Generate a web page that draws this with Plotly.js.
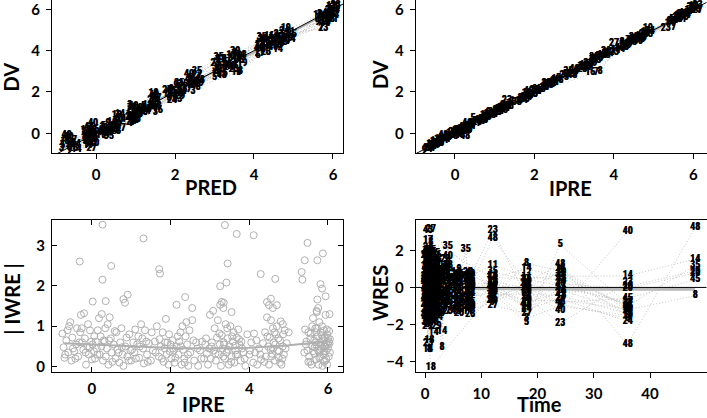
<!DOCTYPE html>
<html><head><meta charset="utf-8">
<script src="https://cdn.plot.ly/plotly-3.0.1.min.js"></script>
<style>html,body{margin:0;padding:0;background:#fff}#chart{width:707px;height:418px}</style>
</head><body><div id="chart"></div>
<script>
// ---------- Panels 1 & 2: observations (ID, PRED, DV, IPRE) ----------
const obsId = [48,15,7,3,19,27,14,9, 40,27,48,18,3,5,7,9,11,14,16,23,35, 3,7,9,19,24,35, 23,5,11,14,16,27,40,48, 3,7,8,9,14,18,19,24,29,35, 5,40,48, 19,23,3,7,14,27,35, 8,9,16,24,40, 25,23,5,11,29,48, 35,7,14,18,19,3,27,9, 35,5,8,11,16,23,40,48, 37,16,7,8,3,9,14,19,24,29,39, 35,5,11,18,23,40,48, 7,27,8,14,3,9,16,24, 19,29,35,40,11, 23,7,5,14,18,3,48, 12,9,11,16,24,27,35,40,
 5,11,16,23,40,24, 8,19,24,29,17,20,45,43,28,39, 5,11,14,27,40, 3,7,9,19,24,35, 5,11,16,23,27,40,48,20,45,17, 9,11,24, 5,9,11,16,40,48, 3,14,27, 9,16,24,35, 5,8,11,23,40,48, 3,9,14,19,27, 5,11,23,35,40,48,18, 3,9,14,27,29, 5,11,18,23,35,40,48, 3,14,24, 9,11,16,24,27,40, 3,5,7,14,18,23,48];
const obsPred = [-0.75,-0.72,-0.55,-0.88,-0.8,-0.62,-0.5,-0.68, -0.08,-0.12,-0.2,-0.25,-0.28,-0.15,-0.05,-0.22,-0.1,-0.18,-0.05,-0.25,-0.12, 0.15,0.25,0.3,0.12,0.2,0.32, 0.5,0.55,0.45,0.6,0.4,0.62,0.55,0.42, 0.85,0.9,0.95,1.0,0.88,1.05,0.92,0.98,0.86,1.02, 1.2,1.28,1.18, 1.45,1.42,1.5,1.55,1.4,1.52,1.48, 1.85,1.9,1.82,1.92,1.88, 2.1,2.05,2.0,2.15,2.12,2.18, 2.55,2.35,2.5,2.4,2.6,2.45,2.55,2.32, 3.1,3.0,3.05,3.15,3.2,3.02,3.12,3.18, 3.3,3.55,3.6,3.65,3.4,3.5,3.45,3.7,3.35,3.58,3.52, 4.19,4.1,4.25,4.15,4.3,4.12,4.28, 4.45,4.4,4.5,4.6,4.55,4.7,4.38,4.65, 4.8,4.85,4.95,4.78,4.9, 5.75,5.7,5.65,5.8,5.62,5.9,5.85, 5.95,5.9,6.0,5.98,6.02,5.92,6.05,5.88,
 -0.85,-0.78,-0.65,-0.58,-0.7,-0.52, -0.3,-0.2,-0.1,-0.15,-0.27,-0.05,-0.18,-0.08,-0.22,-0.12, 0.18,0.28,0.22,0.3,0.15, 0.38,0.48,0.58,0.52,0.62,0.45, 0.84,0.9,0.96,1.04,0.88,0.94,1.0,1.06,0.9,0.98, 1.22,1.3,1.25, 1.38,1.44,1.5,1.56,1.46,1.53, 1.84,1.93,1.8, 2.02,2.08,2.16,2.2, 2.38,2.58,2.45,2.52,2.35,2.62, 3.0,3.08,3.2,3.05,3.15, 3.28,3.42,3.48,3.62,3.4,3.55,3.68, 4.08,4.2,4.3,4.14,4.22, 4.42,4.5,4.58,4.62,4.72,4.48,4.68, 4.82,4.92,4.76, 5.6,5.68,5.78,5.72,5.85,5.82, 5.96,5.9,6.0,6.04,5.94,6.06,5.92];
const obsDv = [-0.1,-0.3,-0.35,-0.75,-0.55,-0.65,-0.8,-0.85, 0.45,-0.72,-0.15,-0.1,-0.4,0.1,-0.25,-0.55,0.0,-0.3,0.2,0.05,-0.45, 0.3,0.0,0.45,-0.1,0.15,-0.15, 0.08,0.72,0.35,0.9,0.5,0.25,0.6,0.2, 1.35,0.45,1.1,0.7,0.9,1.2,0.55,1.0,0.75,0.85, 1.3,1.15,1.0, 1.93,1.6,1.0,1.4,1.2,1.7,1.5, 1.7,2.1,1.9,1.6,2.0, 2.4,1.65,2.0,2.2,1.8,2.1, 3.0,2.1,2.6,2.3,2.4,2.0,2.8,2.5, 3.68,2.7,3.0,3.3,2.9,3.4,3.1,2.8, 3.55,2.92,2.95,3.0,3.6,3.85,3.3,3.4,3.2,3.7,3.95, 4.65,3.75,4.0,4.3,3.9,4.1,4.45, 4.5,4.35,4.4,4.05,4.6,4.3,4.7,4.5, 5.05,4.6,4.8,4.45,4.9, 5.05,5.1,5.5,5.3,5.7,5.6,5.8, 6.15,5.85,5.5,6.0,5.7,5.95,6.1,5.6,
 -0.6,-0.4,-0.5,-0.75,-0.2,-0.55, -0.2,-0.6,-0.35,-0.05,0.15,-0.5,0.3,-0.15,-0.25,0.15, 0.35,0.1,-0.05,0.25,0.05, 0.15,0.55,0.4,0.85,0.65,0.15, 0.95,1.25,0.6,1.0,0.5,1.3,0.65,0.9,0.8,1.15, 1.2,1.35,1.05, 1.3,1.75,1.55,1.1,1.85,1.3, 1.85,1.75,2.05, 2.3,1.9,2.0,2.35, 2.65,2.2,2.45,2.35,2.85,2.55, 3.2,3.5,3.25,2.85,3.55, 3.45,3.75,3.1,3.5,3.25,3.6,3.75, 4.2,4.45,4.2,3.85,4.55, 4.55,4.7,4.25,4.8,4.4,4.15,4.65, 4.75,4.55,4.95, 5.35,5.6,5.45,5.75,5.4,5.65, 5.8,6.05,5.9,5.95,5.75,6.2,5.5];
const obsIpre = [-0.3,-0.4,-0.45,-0.7,-0.6,-0.55,-0.7,-0.78, 0.3,-0.6,0.25,0.12,-0.35,0.05,-0.2,-0.45,-0.1,-0.25,0.15,-0.05,-0.5, 0.25,0.1,0.4,0.0,0.2,-0.05, 0.2,0.45,0.4,0.85,0.55,0.35,0.6,0.3, 1.2,0.6,1.0,0.75,0.95,1.15,0.65,0.9,0.8,0.9, 1.2,1.15,1.05, 1.8,1.3,1.1,1.35,1.25,1.7,1.55, 1.75,2.0,1.95,1.7,1.85, 2.3,1.75,2.05,2.25,1.85,2.15, 2.85,2.2,2.55,2.35,2.45,2.1,2.75,2.45, 3.5,2.8,3.05,3.25,2.95,3.35,3.0,2.95, 3.5,3.4,3.55,3.65,3.55,3.75,3.35,3.45,3.3,3.65,3.8, 4.5,3.85,4.05,4.25,4.0,4.15,4.4, 4.35,4.0,4.2,4.15,4.55,4.4,4.65,4.6, 4.85,4.7,4.85,4.6,4.8, 5.3,5.5,5.45,5.4,5.65,5.55,5.75, 6.0,5.9,5.7,6.05,5.8,6.1,5.95,5.75,
 -0.65,-0.5,-0.45,-0.68,-0.3,-0.5, -0.15,-0.5,-0.3,0.0,0.05,-0.4,0.2,-0.2,-0.3,0.1, 0.3,0.15,0.05,0.3,0.0, 0.25,0.5,0.45,0.75,0.7,0.3, 1.0,1.2,0.7,0.95,0.55,1.25,0.7,0.85,0.75,1.1, 1.25,1.3,1.1, 1.35,1.7,1.5,1.2,1.85,1.35, 1.85,1.8,2.0, 2.25,1.95,2.05,2.35, 2.6,2.3,2.5,2.4,2.8,2.6, 3.2,3.45,3.2,2.9,3.5, 3.45,3.7,3.2,3.55,3.3,3.6,3.7, 4.2,4.45,4.25,3.9,4.5, 4.5,4.7,4.3,4.75,4.45,4.25,4.65, 4.75,4.65,4.9, 5.4,5.6,5.5,5.7,5.45,5.65, 5.85,6.0,5.95,5.9,5.8,6.1,5.6];
const smoothPredX = [-0.8, 0.5, 2.0, 3.5, 5.0, 6.0];
const smoothPredY = [-0.72, 0.55, 2.05, 3.42, 4.95, 5.95];
const smoothIpreX = [-0.8, 1.0, 3.0, 5.0, 6.1];
const smoothIpreY = [-0.8, 0.98, 3.0, 4.98, 6.05];

// ---------- Panel 3: |IWRES| vs IPRE ----------
const iwX = [-0.75,-0.72,-0.7,-0.65,-0.6,-0.58,-0.55,-0.52,-0.5,-0.45,-0.4,-0.38,-0.35,-0.3,-0.28,-0.25,-0.22,-0.2,-0.18,-0.15,-0.12,-0.1,-0.08,-0.05,-0.02,0.0,
 0.02,0.05,0.08,0.1,0.12,0.15,0.18,0.2,0.22,0.25,0.28,0.3,0.32,0.35,0.38,0.4,0.42,0.45,0.48,0.5,0.55,0.6,0.62,0.65,0.7,0.72,0.75,0.78,0.8,0.85,0.9,0.95,0.98,
 1.0,1.05,1.08,1.1,1.15,1.2,1.25,1.28,1.3,1.32,1.35,1.4,1.45,1.5,1.55,1.6,1.65,1.7,1.75,1.8,1.82,1.85,1.88,1.9,1.92,1.95,1.98,2.0,
 2.02,2.05,2.08,2.1,2.15,2.2,2.22,2.25,2.28,2.3,2.32,2.35,2.38,2.4,2.42,2.45,2.5,2.55,2.6,2.65,2.7,2.75,2.8,2.85,2.9,2.95,2.98,3.0,
 3.02,3.05,3.08,3.1,3.12,3.15,3.18,3.2,3.22,3.25,3.28,3.3,3.32,3.35,3.38,3.4,3.42,3.45,3.48,3.5,3.52,3.55,3.58,3.6,3.62,3.65,3.68,3.7,3.72,3.75,3.78,3.8,3.85,3.9,3.95,4.0,
 4.05,4.1,4.12,4.15,4.2,4.25,4.3,4.35,4.4,4.42,4.45,4.48,4.5,4.52,4.55,4.58,4.6,4.62,4.65,4.68,4.7,4.72,4.75,4.78,4.8,4.82,4.85,4.88,4.9,4.95,5.0,4.78,4.6,4.85,
 5.4,5.42,5.45,5.48,5.5,5.52,5.55,5.58,5.6,5.62,5.65,5.65,5.68,5.7,5.7,5.72,5.74,5.75,5.76,5.78,5.8,5.8,5.82,5.84,5.85,5.86,5.88,5.88,5.9,5.9,5.92,5.92,5.94,5.95,5.96,5.97,5.98,6.0,6.0,6.02,6.03,6.04,6.05,6.05,5.84,5.78,5.66,5.6,5.55,5.96,
 -0.68,-0.62,-0.48,-0.42,-0.32,-0.26,-0.16,-0.06, 0.06,0.14,0.24,0.34,0.44,0.52,0.58,0.68,0.76,0.88,0.94, 1.02,1.12,1.18,1.22,1.38,1.42,1.52,1.62,1.72,1.78,1.86,1.96, 2.06,2.12,2.18,2.26,2.36,2.44,2.48,2.58,2.68,2.78,2.88,2.92, 3.04,3.14,3.24,3.34,3.36,3.44,3.46,3.54,3.56,3.64,3.66,3.74,3.82,3.88, 4.02,4.18,4.28,4.38,4.46,4.54,4.56,4.64,4.66,4.74,4.76,4.84,4.86,4.92, 5.44,5.5,5.56,5.62,5.68,5.72,5.78,5.82,5.86,5.9,5.94,5.98,6.02,5.7,5.8,5.9,6.0,
 0.27,1.31,3.38,3.68,4.11,5.48,5.41,5.73,5.87,5.33,5.35,-0.31,0.27,0.49,1.71,1.73,3.45,3.42,3.26,4.29,4.66,5.81,5.85,5.94,0.02,0.35,0.8,0.84,0.91,2.15,2.37,2.55,3.3,3.35,3.26,3.34,3.55,4.45,4.5,4.55,4.6,4.7,5.73,5.75,5.71,6.04];
const iwAbs = [0.82,0.48,0.22,0.65,0.35,1.0,1.1,0.15,0.72,0.38,0.55,0.95,0.25,0.85,1.28,0.6,0.42,1.32,0.7,0.05,0.5,1.05,0.3,0.9,0.62,0.18,
 0.55,0.38,0.2,0.62,0.45,0.9,1.2,0.3,0.75,1.3,0.15,0.65,0.62,0.25,0.45,1.05,0.05,1.22,0.7,0.35,0.55,0.2,0.85,0.42,0.1,0.6,0.95,0.3,0.02,0.5,0.25,0.8,0.4,
 0.15,0.6,0.35,0.92,0.55,0.22,1.05,0.7,0.45,0.08,0.9,0.3,0.58,0.15,0.4,0.62,1.0,0.25,0.5,0.85,0.12,0.45,1.18,0.3,0.6,0.05,0.38,0.55,
 0.2,0.65,0.4,0.1,0.5,0.3,0.62,0.85,0.05,1.0,0.42,0.2,0.75,1.1,0.55,0.02,0.35,1.15,0.15,0.6,0.02,0.4,0.62,0.2,0.7,0.05,0.45,1.28,
 0.2,0.6,1.38,0.4,0.95,0.15,0.72,1.15,0.3,0.55,0.02,0.78,0.45,0.6,0.2,1.05,0.35,0.7,0.05,0.5,1.0,0.25,0.62,0.85,0.1,0.4,0.72,0.3,0.92,0.55,0.15,0.62,0.35,0.02,0.8,0.3,
 0.6,0.1,0.82,0.35,0.05,0.45,0.18,0.58,0.85,0.25,1.22,0.5,0.05,0.72,1.15,0.32,0.95,0.6,0.15,0.8,1.0,0.4,0.22,0.65,1.12,0.05,0.5,0.3,0.9,0.58,0.85,0.1,0.45,1.05,
 0.35,0.92,0.62,0.4,0.85,0.25,0.7,0.05,0.5,1.2,0.32,0.65,0.95,0.18,0.55,1.35,0.75,0.4,0.05,1.1,0.6,0.25,0.85,0.45,1.0,0.02,0.65,0.3,0.9,0.5,0.15,0.72,1.28,0.38,0.6,0.92,0.05,0.45,0.7,0.25,0.88,0.58,0.35,0.68,0.78,0.35,0.48,1.0,0.12,0.18,
 0.3,0.9,0.45,0.2,0.6,0.95,0.35,0.48, 0.75,0.3,0.5,0.95,0.65,0.12,0.88,0.35,0.48,0.72,0.15, 0.42,0.2,0.75,0.5,0.62,0.12,0.85,0.35,0.68,0.2,0.6,0.8, 0.45,0.22,0.75,0.5,0.1,0.3,0.9,0.65,0.45,0.2,0.55,0.32, 0.5,0.32,0.82,0.25,0.55,0.95,0.42,0.12,0.75,0.52,0.3,0.68,0.45,0.2, 0.4,0.65,0.3,0.12,0.75,0.42,0.25,0.85,0.55,0.7,0.38,0.2,0.8,0.45, 0.55,0.12,0.82,0.38,0.6,0.95,0.22,0.55,0.7,0.12,0.5,0.8,0.62,0.85,0.42,0.38,0.55,
 3.51,3.17,3.5,3.28,3.25,3.06,2.63,2.63,2.8,2.34,2.15,2.6,2.15,2.49,2.41,2.3,2.55,2.08,1.99,2.29,2.17,2.04,1.93,1.74,1.61,1.62,1.67,1.58,1.78,1.53,1.72,1.45,1.6,1.58,1.53,1.45,1.35,1.6,1.52,1.68,1.45,1.52,1.66,1.45,1.38,1.3];
const iwSmoothX = [-0.7, 0.0, 1.0, 2.0, 3.0, 4.0, 5.0, 6.0];
const iwSmoothY = [0.58, 0.55, 0.5, 0.46, 0.45, 0.47, 0.53, 0.62];

// ---------- Panel 4: WRES vs Time, one list per sampling time ----------
const S16 = [3,5,8,9,11,14,16,20,23,24,27,29,35,40,45,48];
const blockTime = [0.1, 0.25, 0.35, 0.5, 0.6, 0.75, 0.9, 1, 1.25, 1.5, 1.75, 2, 2.25, 2.6, 3, 3.6, 4, 5.5, 6, 7.2, 7.6, 8,
                   11.8, 12, 17.8, 18, 24, 24.2, 36, 36, 48];
const blockIds = [
 S16,
 [3,5,8,9,11,14,16,20,23,27,29,35,40,45,48],
 S16,
 [3,5,8,9,11,14,16,17,20,23,24,27,29,35,40,43,45,48],
 S16,
 [3,5,8,9,11,14,16,18,20,23,27,29,40,45,48],
 S16,
 [3,5,8,9,11,14,16,18,20,23,24,27,29,35,40,45,48],
 S16, S16, S16, S16, S16,
 [20,11,24,48],
 [14,8,9,5,27],
 S16, S16, S16,
 [3,5,8,9,11,14,16,20,23,24,27,29,40,45,48],
 [35],
 S16,
 [3,5,8,9,11,14,16,20,23,24,27,28,29,35,40,45,48],
 [17,18,43,28,19,7],
 [23,48,11,35,16,14,24,40,29,3,20,5,8,45,9,27],
 [17,18,43,28,19,7],
 [8,14,11,35,48,45,9,40,23,16,29,20,24,27,3,5],
 [5,48,16,8,35,14,11,20,27,29,24,45,9,3,40,23],
 [17,18,43,28,19,7],
 [40,14,23,29,20,45,27,5,35,16,8,11,3,9,24,48],
 [17,18,43,28,19,7],
 [48,14,35,29,20,45,8]];
const blockWres = [
 [0.9,-0.7,1.4,-1.8,0.2,1.1,-0.4,0.6,-1.2,0.4,1.7,-0.9,0.0,-1.5,0.3,-0.6],
 [-0.5,1.2,-1.0,0.3,1.6,-0.2,0.8,-1.5,0.1,-0.8,0.5,-1.9,1.0,-0.4,1.8],
 [1.5,-0.3,0.7,-1.0,-1.9,0.4,2.0,-0.1,0.8,-0.7,1.2,-2.1,0.5,1.9,-1.6,0.1],
 [0.2,0.6,-1.3,-0.6,1.1,-3.35,1.4,2.55,-0.9,-3.0,2.14,0.0,-1.2,1.7,-0.3,3.08,0.9,-1.8],
 [-1.1,1.8,0.0,0.6,-0.4,-1.7,0.3,1.5,-0.8,1.0,-1.4,0.9,-0.2,0.4,1.3,-0.5],
 [-1.6,-0.1,-3.35,1.5,-0.7,0.9,-1.1,-2.83,0.3,1.9,-2.0,1.2,-0.5,-1.3,0.7],
 [0.4,-0.9,-1.9,1.1,0.8,0.5,-1.5,-0.3,1.6,0.0,0.6,-1.0,1.3,-1.2,-0.2,1.9],
 [1.0,-1.4,2.4,-0.2,0.5,-0.9,0.2,-4.32,1.3,-0.6,-1.7,3.1,-0.4,2.0,0.7,1.6,-1.1],
 [-0.3,0.8,0.2,0.5,1.7,-1.2,1.0,-1.8,0.3,-0.5,-0.2,1.5,-1.1,0.9,-0.8,0.6],
 [0.6,1.9,-0.3,-1.5,0.0,-2.44,-0.7,0.9,1.4,0.2,-1.0,0.3,-0.2,-1.9,1.1,0.5],
 [1.3,-0.6,-0.8,0.2,-0.1,1.5,-1.3,0.7,-0.4,1.1,0.5,-0.7,0.2,-0.9,1.8,-1.5],
 [-0.9,0.4,1.1,0.8,-1.2,0.1,1.7,-0.5,-1.4,0.6,1.3,-2.1,0.9,0.0,-0.6,-0.1],
 [0.1,1.0,-0.6,-1.1,0.9,-0.5,0.4,1.2,-0.9,-1.6,0.7,0.2,-1.3,0.5,-0.2,0.8],
 [-1.4,0.4,1.0,-0.8],
 [-2.35,-3.25,-0.4,0.5,-1.1],
 [0.9,-0.5,1.2,-1.0,0.3,-0.2,0.6,-0.8,1.5,0.1,-1.3,0.4,-0.6,1.0,-0.3,0.7],
 [-0.68,1.3,-0.2,0.8,-1.0,0.0,1.0,-0.6,-1.3,0.5,0.3,-0.9,2.18,1.65,-0.4,1.2],
 [0.3,-0.9,0.6,-0.3,-1.2,0.8,0.1,-0.5,0.5,-1.0,-0.1,0.7,-0.7,0.2,-1.3,0.4],
 [-0.2,0.5,-1.1,0.98,0.2,-0.6,0.7,-1.4,0.0,-0.9,0.4,-0.4,-1.2,0.6,-0.7],
 [2.04],
 [-0.4,0.7,-0.8,0.2,-1.3,0.5,0.0,-0.6,0.8,-0.2,0.4,-1.0,0.6,-0.5,0.3,-0.9],
 [0.8,-0.5,0.3,-1.2,0.6,-0.3,-0.9,0.1,0.5,-1.1,-0.1,-1.45,0.7,-0.8,0.2,-1.0,0.0],
 [0.55,-0.4,0.0,-0.7,0.35,-0.15],
 [3.08,2.63,1.2,0.84,0.65,0.5,0.3,0.2,0.1,-0.1,-0.2,-0.3,-0.5,-0.6,-0.8,-0.95],
 [0.45,-0.35,-0.9,0.2,-0.05,-0.7],
 [1.29,1.0,0.6,0.4,0.3,0.1,0.0,-0.2,-0.5,-0.6,-0.8,-1.0,-1.2,-1.4,-1.67,-1.88],
 [2.31,1.22,1.0,0.9,0.7,0.6,0.4,0.2,0.0,-0.3,-0.6,-0.8,-0.9,-1.0,-1.22,-1.94],
 [0.1,-0.45,0.5,-0.15,0.8,-0.7],
 [2.99,0.62,0.29,0.05,-0.06,-0.59,-0.77,-0.9,-1.0,-1.1,-1.2,-1.3,-1.5,-1.65,-1.83,-3.07],
 [-0.85,-1.4,-0.95,-1.25,-1.55,-1.15],
 [3.2,1.52,1.18,0.88,0.77,0.41,-0.45]];
const wresSmoothX = [0, 5, 10, 20, 30, 40, 48];
const wresSmoothY = [-0.03, -0.05, -0.06, -0.08, -0.1, -0.1, -0.1];

// flatten the per-time lists
const wresTime = [], wresId = [], wresVal = [];
blockTime.forEach((t, b) => {
  blockWres[b].forEach((w, i) => { wresTime.push(t); wresId.push(blockIds[b][i]); wresVal.push(w); });
});

// ---------- drawing ----------
const FONT = 'Lato, "DejaVu Sans", sans-serif';
const LABFONT = '"Liberation Sans Narrow", "Roboto Condensed", Lato, sans-serif';
const GREY_DOT = '#c4c4c4';
const traces = [];

function subjectLines(ids, xs, ys, xa, ya) {
  const groups = {};
  ids.forEach((id, i) => { (groups[id] = groups[id] || []).push([xs[i], ys[i]]); });
  const lx = [], ly = [];
  Object.keys(groups).forEach(k => {
    groups[k].sort((a, b) => a[0] - b[0]).forEach(p => { lx.push(p[0]); ly.push(p[1]); });
    lx.push(null); ly.push(null);
  });
  return {x: lx, y: ly, xaxis: xa, yaxis: ya, mode: 'lines', connectgaps: false,
          line: {color: GREY_DOT, width: 1, dash: '1px,2px'}, hoverinfo: 'skip'};
}
function labels(ids, xs, ys, xa, ya) {
  return {x: xs, y: ys, xaxis: xa, yaxis: ya, mode: 'text', text: ids.map(String),
          textposition: 'middle center',
          textfont: {family: LABFONT, size: 10, color: '#000', weight: 'bold', shadow: '0.4px 0 0 #000'},
          hoverinfo: 'skip'};
}
function line(xs, ys, xa, ya, color, width) {
  return {x: xs, y: ys, xaxis: xa, yaxis: ya, mode: 'lines', line: {color: color, width: width}, hoverinfo: 'skip'};
}
const idLine = [-2, 7];

// panel 1
traces.push(subjectLines(obsId, obsPred, obsDv, 'x', 'y'));
traces.push(line(smoothPredX, smoothPredY, 'x', 'y', '#aaaaaa', 1.5));
traces.push(line(idLine, idLine, 'x', 'y', '#000', 1));
traces.push(labels(obsId, obsPred, obsDv, 'x', 'y'));
// panel 2
traces.push(subjectLines(obsId, obsIpre, obsDv, 'x2', 'y2'));
traces.push(line(smoothIpreX, smoothIpreY, 'x2', 'y2', '#aaaaaa', 1.5));
traces.push(line(idLine, idLine, 'x2', 'y2', '#000', 1));
traces.push(labels(obsId, obsIpre, obsDv, 'x2', 'y2'));
// panel 3
traces.push({x: iwX, y: iwAbs, xaxis: 'x3', yaxis: 'y3', mode: 'markers',
  marker: {symbol: 'circle-open', size: 7, color: '#b0b0b0', line: {width: 1, color: '#b0b0b0'}}, hoverinfo: 'skip'});
traces.push(line(iwSmoothX, iwSmoothY, 'x3', 'y3', '#b0b0b0', 2));
// panel 4
traces.push(subjectLines(wresId, wresTime, wresVal, 'x4', 'y4'));
traces.push(line(wresSmoothX, wresSmoothY, 'x4', 'y4', '#b8b8b8', 3));
traces.push(line([-5, 55], [0, 0], 'x4', 'y4', '#000', 1));
traces.push(labels(wresId, wresTime, wresVal, 'x4', 'y4'));

const tickFont = {family: FONT, size: 15, color: '#000', weight: 'bold'};
function ax(domain, range, tickvals, anchor, extra) {
  return Object.assign({domain: domain, range: range, anchor: anchor, tickmode: 'array', tickvals: tickvals,
    ticks: 'outside', ticklen: 5, tickwidth: 1, tickcolor: '#000', showline: true, linecolor: '#000', linewidth: 1,
    showgrid: false, zeroline: false, tickfont: tickFont, fixedrange: true, ticklabelstandoff: 3,
    ticklabeloverflow: 'allow'}, extra || {});
}
function overlay(side, over, anchor, range, tickvals) {
  return {overlaying: over, side: side, anchor: anchor, range: range, tickmode: 'array', tickvals: tickvals,
    ticks: 'inside', ticklen: 5, tickwidth: 1, tickcolor: '#000', showticklabels: false, showline: false,
    showgrid: false, zeroline: false, fixedrange: true};
}
const XL = [0.0736, 0.4851], XR = [0.588, 0.9993];
const YT = [0.634, 1.0], YB = [0.1093, 0.4748];
const r1x = [-1.114, 6.253], r1y = [-0.953, 6.45];
const r2x = [-0.989, 6.332];
const r3x = [-1.014, 6.381], r3y = [-0.139, 3.637];
const r4x = [-1.653, 50.04], r4y = [-4.565, 3.652];
const t6 = [0, 2, 4, 6], t3 = [0, 1, 2, 3], tT = [0, 10, 20, 30, 40], tW = [-4, -2, 0, 2];

const annFont = {family: FONT, size: 20, color: '#000', weight: 'bold'};
function ann(text, x, y, angle) {
  return {text: text, xref: 'paper', yref: 'paper', x: x, y: y, xanchor: 'center', yanchor: 'middle',
    showarrow: false, font: annFont, textangle: angle || 0};
}

const layout = {
  width: 707, height: 418, margin: {l: 0, r: 0, t: 0, b: 0},
  paper_bgcolor: '#fff', plot_bgcolor: '#fff', showlegend: false,
  xaxis: ax(XL, r1x, t6, 'y', {mirror: false}),
  yaxis: ax(YT, r1y, t6, 'x', {mirror: true}),
  xaxis2: ax(XR, r2x, t6, 'y2', {mirror: false}),
  yaxis2: ax(YT, r1y, t6, 'x2', {mirror: true}),
  xaxis3: ax(XL, r3x, t6, 'y3', {mirror: 'ticks', ticks: 'inside'}),
  yaxis3: ax(YB, r3y, t3, 'x3', {mirror: 'ticks', ticks: 'inside'}),
  xaxis4: ax(XR, r4x, tT, 'y4', {mirror: true}),
  yaxis4: ax(YB, r4y, tW, 'x4', {mirror: true}),
  xaxis5: overlay('top', 'x', 'y', r1x, t6),
  yaxis5: overlay('right', 'y', 'x', r1y, t6),
  xaxis6: overlay('top', 'x2', 'y2', r2x, t6),
  yaxis6: overlay('right', 'y2', 'x2', r1y, t6),
  xaxis7: overlay('top', 'x4', 'y4', r4x, tT),
  yaxis7: overlay('right', 'y4', 'x4', r4y, tW),
  annotations: [
    ann('PRED', 0.2985, 0.5526), ann('DV', 0.0162, 0.8158, -90),
    ann('IPRE', 0.8076, 0.5502), ann('DV', 0.5375, 0.8206, -90),
    ann('IPRE', 0.2885, 0.0335), ann('| IWRE |', 0.0165, 0.2847, -90),
    ann('Time', 0.7624, 0.0335), ann('WRES', 0.5375, 0.299, -90)
  ]
};
Plotly.newPlot('chart', traces, layout, {displayModeBar: false, staticPlot: true});
</script>
</body></html>
